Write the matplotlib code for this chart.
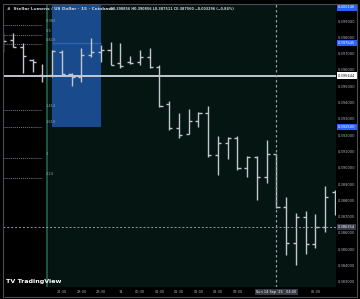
import matplotlib.pyplot as plt
import matplotlib.transforms as mtransforms
from matplotlib.patches import Rectangle

# %%
## XLM/USD 15m bars (Coinbase), Sat 13 Sep 21:00 -> Sun 14 Sep 05:30
opens = [0.397344, 0.397834, 0.397405, 0.396607, 0.395687, 0.395687, 0.397098,
         0.395748, 0.395564, 0.396914, 0.397098, 0.397221, 0.396423, 0.396485,
         0.396485, 0.396791, 0.396178, 0.393908, 0.392436, 0.392067, 0.392865,
         0.393356, 0.390779, 0.391515, 0.391822, 0.389982, 0.390656, 0.389429,
         0.390856, 0.387589, 0.385380, 0.386975, 0.385319, 0.386362, 0.388509]
highs = [0.398264, 0.398264, 0.397650, 0.396669, 0.396362, 0.397221, 0.397221,
         0.395810, 0.397344, 0.397957, 0.397528, 0.397712, 0.397650, 0.396853,
         0.397221, 0.397344, 0.396301, 0.394092, 0.393356, 0.393601, 0.393417,
         0.393785, 0.391945, 0.391883, 0.391945, 0.390718, 0.390718, 0.391699,
         0.390856, 0.388202, 0.387221, 0.387343, 0.387160, 0.388877, 0.388632]
lows = [0.397098, 0.397405, 0.395810, 0.395871, 0.395258, 0.395564, 0.395687,
        0.395012, 0.395258, 0.396791, 0.396485, 0.396301, 0.396117, 0.396362,
        0.396301, 0.396117, 0.393724, 0.392313, 0.391822, 0.392067, 0.392497,
        0.390656, 0.389552, 0.390534, 0.389859, 0.389429, 0.388018, 0.389061,
        0.387511, 0.384644, 0.384031, 0.384705, 0.385074, 0.386055, 0.387098]
closes = [0.397773, 0.397405, 0.396853, 0.396485, 0.395626, 0.397160, 0.395748,
          0.395564, 0.396914, 0.397098, 0.397221, 0.396301, 0.396239, 0.396423,
          0.396791, 0.396178, 0.393785, 0.392436, 0.392006, 0.392865, 0.393356,
          0.390779, 0.391515, 0.391822, 0.389982, 0.390656, 0.389429, 0.390840,
          0.387560, 0.385380, 0.386975, 0.385319, 0.386362, 0.388202, 0.387160]

tick_idx = [6, 8, 10, 12, 14, 16, 18, 20, 22, 24, 32]
tick_text = ["22:30", "23:00", "23:30", "14", "00:30", "01:00", "01:30",
             "02:00", "02:30", "03:00", "05:00"]
price_ticks = [0.383 + 0.001 * i for i in range(17)]

# drawings
fib_levels = [0.382, 0.5, 0.618, 1.414, 1.618, 2, 2.24]
fib_p0 = 0.400687
fib_p1 = 0.395644
hline_price = 0.395644
rect_top, rect_mid, rect_bottom = 0.400146, 0.397645, 0.392500
cross_idx = 28
cross_price = 0.386354

BG = "#041512"
BAR = "#c3c6ce"
TXT = "#b2b5be"
BLUE = "#2962ff"

# %%
W, H = 360, 299
fig = plt.figure(figsize=(W / 100, H / 100), dpi=100, facecolor="black")
ax = fig.add_axes([3 / W, (H - 287) / H, 333 / W, 283 / H])
ax.set_facecolor(BG)
ax.set_xlim(-0.031, 34.106)
ax.set_ylim(0.382681, 0.400043)

ax.axvspan(-1, 4.5, color="black", zorder=0.5)
ax.axvline(4.5, color="#1d5e4c", lw=1.3, zorder=0.6)

# rectangle drawing
ax.add_patch(Rectangle((5, rect_bottom), 5, rect_top - rect_bottom,
                       facecolor="#184a8c", edgecolor="none", zorder=1))
ax.hlines(rect_mid, 5, 10, color="#2f63b8", lw=1.0, zorder=1.1)

# fib extension
rng = fib_p0 - fib_p1
for lvl in fib_levels:
    p = fib_p0 - lvl * rng
    ax.hlines(p, 0, 4, color="#787b86", lw=0.7, linestyles=(0, (1, 1)), zorder=1.2)
    ax.annotate(f"{lvl:g}", (4, p), xytext=(2.5, 2.9), textcoords="offset points",
                fontsize=2.6, color="#9598a1", va="center", ha="left", zorder=1.3)

ax.axhline(hline_price, color="#d1d4dc", lw=1.3, zorder=2)

# OHLC bars
x = list(range(len(opens)))
ax.vlines(x, lows, highs, color=BAR, lw=1.0, zorder=3)
ax.hlines(opens, [i - 0.32 for i in x], x, color=BAR, lw=1.0, zorder=3)
ax.hlines(closes, x, [i + 0.32 for i in x], color=BAR, lw=1.0, zorder=3)

# crosshair
ax.axvline(cross_idx, color="#9598a1", lw=0.9, ls=(0, (2, 2)), zorder=4)
ax.axhline(cross_price, color="#9598a1", lw=0.7, ls=(0, (2, 2)), zorder=4)

# axes
for s in ax.spines.values():
    s.set_visible(False)
ax.set_xticks(tick_idx)
ax.set_xticklabels(tick_text)
ax.yaxis.tick_right()
ax.set_yticks(price_ticks)
ax.set_yticklabels([f"{p:.6f}" for p in price_ticks])
ax.tick_params(axis="x", length=0, pad=2.2, labelsize=2.5, labelcolor=TXT)
ax.tick_params(axis="y", length=0, pad=1.6, labelsize=2.6, labelcolor=TXT)

# price axis labels
tr = mtransforms.blended_transform_factory(ax.transAxes, ax.transData)
ymax = ax.get_ylim()[1]
labels = [(rect_top, min(rect_top, ymax - 0.00021), BLUE, "white"),
          (rect_mid, rect_mid, BLUE, "white"),
          (rect_bottom, rect_bottom, BLUE, "white"),
          (hline_price, hline_price, "#ffffff", "#131722"),
          (cross_price, cross_price, "#363a45", "white")]
for val, ypos, fc, tc in labels:
    ax.text(1.006, ypos, f"{val:.6f}", transform=tr, ha="left", va="center",
            fontsize=2.6, color=tc,
            bbox=dict(boxstyle="square,pad=0.35", fc=fc, ec="none"),
            clip_on=False, zorder=10)

trx = mtransforms.blended_transform_factory(ax.transData, ax.transAxes)
ax.text(cross_idx, -0.018, "Sun 14 Sep '25   04:00", transform=trx, ha="center",
        va="center", fontsize=2.5, color="white",
        bbox=dict(boxstyle="square,pad=0.4", fc="#363a45", ec="none"),
        clip_on=False, zorder=10)

# frame
fig.patches.append(Rectangle((3 / W, 2 / H), 354 / W, 293 / H, transform=fig.transFigure,
                             fill=False, edgecolor="#4a4d57", lw=0.8))

# legend line
fig.text(7 / W, 1 - 9 / H, "#  Stellar Lumens / US Dollar · 15 · Coinbase",
         fontsize=3.1, color="#d1d4dc", va="center", ha="left", fontweight="bold")
fig.text(110 / W, 1 - 9 / H,
         "O0.390856 H0.390856 L0.387511 C0.387560 −0.003296 (−0.84%)",
         fontsize=2.45, color="#d1d4dc", va="center", ha="left", fontweight="bold")

fig.text(6 / W, 1 - 281 / H, "TV TradingView", fontsize=4.6, color="white",
         va="center", ha="left", fontweight="bold")

fig.savefig("out.png", dpi=100, facecolor="black")
